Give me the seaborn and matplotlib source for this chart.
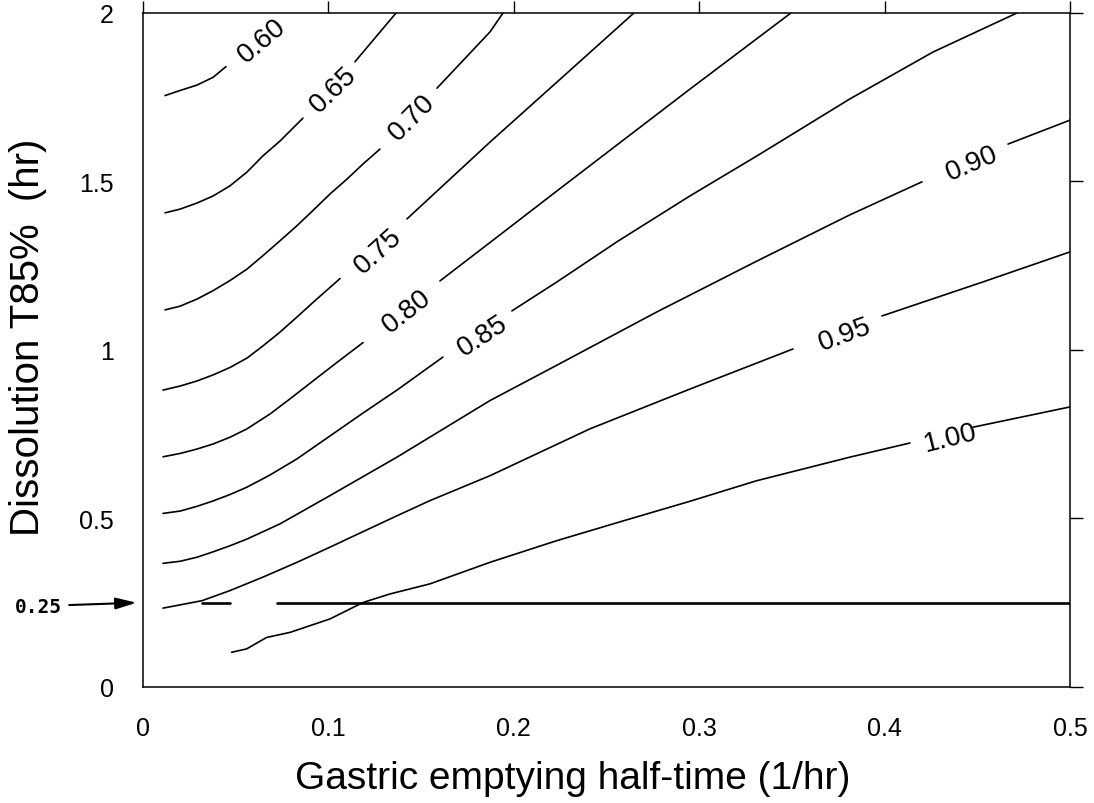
import numpy as np
import matplotlib
matplotlib.use("Agg")
import matplotlib.pyplot as plt
import seaborn as sns

# contour levels and the traced iso-lines (x = gastric emptying, y = T85%)
levels = ["0.60", "0.65", "0.70", "0.75", "0.80", "0.85", "0.90", "0.95", "1.00"]

x_060 = [0.0119, 0.0200, 0.0291, 0.0378, 0.0448]
y_060 = [1.755, 1.770, 1.786, 1.809, 1.841]

x_065 = [0.0119, 0.0200, 0.0291, 0.0378, 0.0469, 0.0561, 0.0647, 0.0739, 0.0863, 0.1143, 0.1365]
y_065 = [1.407, 1.418, 1.436, 1.457, 1.487, 1.528, 1.576, 1.620, 1.688, 1.855, 2.0]

x_070 = [0.0119, 0.0200, 0.0291, 0.0378, 0.0469, 0.0561, 0.0647, 0.0739, 0.0831, 0.0917,
         0.1009, 0.1100, 0.1187, 0.1278, 0.1586, 0.1872, 0.1942]
y_070 = [1.119, 1.130, 1.151, 1.176, 1.206, 1.240, 1.280, 1.324, 1.369, 1.414,
         1.463, 1.507, 1.552, 1.596, 1.777, 1.944, 2.0]

x_075 = [0.0108, 0.0200, 0.0291, 0.0378, 0.0469, 0.0561, 0.0647, 0.0739, 0.0831, 0.0917,
         0.1063, 0.1424, 0.1872, 0.2233, 0.2648]
y_075 = [0.881, 0.893, 0.908, 0.926, 0.948, 0.976, 1.012, 1.053, 1.098, 1.141,
         1.212, 1.389, 1.617, 1.795, 2.0]

x_080 = [0.0108, 0.0200, 0.0291, 0.0378, 0.0469, 0.0561, 0.0685, 0.0793, 0.0917, 0.1046,
         0.1187, 0.1602, 0.1872, 0.2233, 0.2589, 0.2950, 0.3495]
y_080 = [0.683, 0.693, 0.706, 0.721, 0.741, 0.766, 0.810, 0.855, 0.908, 0.963,
         1.022, 1.205, 1.319, 1.472, 1.622, 1.774, 2.0]

x_085 = [0.0108, 0.0200, 0.0291, 0.0378, 0.0469, 0.0561, 0.0685, 0.0831, 0.1009, 0.1187,
         0.1370, 0.1618, 0.1990, 0.2233, 0.2562, 0.2950, 0.3312, 0.3813, 0.4261, 0.4714]
y_085 = [0.515, 0.522, 0.536, 0.552, 0.571, 0.593, 0.629, 0.677, 0.745, 0.813,
         0.881, 0.979, 1.116, 1.202, 1.323, 1.457, 1.576, 1.745, 1.884, 2.0]

x_090 = [0.0108, 0.0200, 0.0291, 0.0378, 0.0469, 0.0561, 0.0739, 0.1009, 0.1370, 0.1872,
         0.2233, 0.2772, 0.3312, 0.3813, 0.4202, 0.4666, 0.5]
y_090 = [0.367, 0.373, 0.385, 0.401, 0.419, 0.439, 0.484, 0.568, 0.682, 0.850,
         0.955, 1.113, 1.264, 1.401, 1.499, 1.611, 1.682]

x_095 = [0.0108, 0.0318, 0.0469, 0.0647, 0.0831, 0.1009, 0.1187, 0.1370, 0.1548, 0.1872,
         0.2411, 0.2950, 0.3506, 0.3986, 0.4531, 0.5]
y_095 = [0.234, 0.256, 0.286, 0.326, 0.370, 0.415, 0.461, 0.508, 0.553, 0.627,
         0.766, 0.884, 1.003, 1.101, 1.202, 1.291]

x_100 = [0.0478, 0.0559, 0.0667, 0.0793, 0.1009, 0.1188, 0.1332, 0.1548, 0.1872, 0.2231,
         0.2591, 0.2950, 0.3310, 0.3813, 0.4137, 0.4478, 0.5]
y_100 = [0.103, 0.113, 0.147, 0.162, 0.202, 0.251, 0.276, 0.306, 0.370, 0.434,
         0.493, 0.551, 0.612, 0.682, 0.724, 0.771, 0.831]

# where each line is broken for its label (x range), and label centre / angle
gap_lo = [0.0448, 0.0863, 0.1278, 0.1063, 0.1187, 0.1618, 0.4202, 0.3506, 0.4137]
gap_hi = [0.60, 0.1143, 0.1586, 0.1424, 0.1602, 0.1990, 0.4666, 0.3986, 0.4478]
label_x = [0.0642, 0.1025, 0.1451, 0.1268, 0.1424, 0.1834, 0.4471, 0.3786, 0.4353]
label_y = [1.920, 1.774, 1.691, 1.294, 1.116, 1.042, 1.555, 1.047, 0.739]
label_rot = [40, 44, 45, 42, 38, 33, 23, 20, 14]

# the 0.25 hr reference line
ref_y = 0.25
ref_x_parts = [(0.0318, 0.047), (0.0723, 0.5)]

x_ticks = [0, 0.1, 0.2, 0.3, 0.4, 0.5]
x_ticklabels = ["0", "0.1", "0.2", "0.3", "0.4", "0.5"]
y_ticks = [0, 0.5, 1, 1.5, 2]
y_ticklabels = ["0", "0.5", "1", "1.5", "2"]

curves = [(x_060, y_060), (x_065, y_065), (x_070, y_070), (x_075, y_075), (x_080, y_080),
          (x_085, y_085), (x_090, y_090), (x_095, y_095), (x_100, y_100)]

sns.set_style("white")
plt.rcParams["font.family"] = ["Liberation Sans", "DejaVu Sans"]
plt.rcParams["text.color"] = "black"
plt.rcParams["axes.labelcolor"] = "black"

fig = plt.figure(figsize=(10.94, 8.04), dpi=100)
ax = fig.add_axes([0.1307, 0.1443, 0.8473, 0.8383])

for (cx, cy), lo, hi in zip(curves, gap_lo, gap_hi):
    cx = np.array(cx)
    cy = np.array(cy)
    for m in (cx <= lo, cx >= hi):
        if m.sum() > 1:
            sns.lineplot(x=cx[m], y=cy[m], sort=False, estimator=None,
                         color="black", linewidth=1.2, ax=ax, legend=False)

for lev, lx, ly, rot in zip(levels, label_x, label_y, label_rot):
    ax.text(lx, ly, lev, fontsize=20, rotation=rot, ha="center", va="center",
            rotation_mode="anchor", color="black")

for x0, x1 in ref_x_parts:
    sns.lineplot(x=[x0, x1], y=[ref_y, ref_y], color="black", linewidth=1.9,
                 ax=ax, legend=False)

ax.annotate("0.25", xy=(-0.0035, ref_y), xytext=(-0.0565, 0.24),
            textcoords="data", annotation_clip=False, ha="center", va="center",
            fontsize=14, fontweight="bold", family="DejaVu Sans Mono",
            arrowprops=dict(arrowstyle="-|>,head_length=0.9,head_width=0.25",
                            color="black", lw=1.5, shrinkA=3, shrinkB=0))

ax.set_xlim(0, 0.5)
ax.set_ylim(0, 2)
ax.set_xticks(x_ticks)
ax.set_xticklabels(x_ticklabels)
ax.set_yticks(y_ticks)
ax.set_yticklabels(y_ticklabels)
ax.tick_params(direction="out", length=9, width=1, top=True, right=True,
               labelsize=18, pad=12, colors="black")

for s in ax.spines.values():
    s.set_color("black")
    s.set_linewidth(1.1)

ax.set_xlabel("Gastric emptying half-time (1/hr)", fontsize=28)
ax.set_ylabel("Dissolution T85%  (hr)", fontsize=29)
ax.xaxis.set_label_coords(0.464, -0.108)
ax.yaxis.set_label_coords(-0.104, 0.52)

fig.savefig("out.png", dpi=100, facecolor="white")
